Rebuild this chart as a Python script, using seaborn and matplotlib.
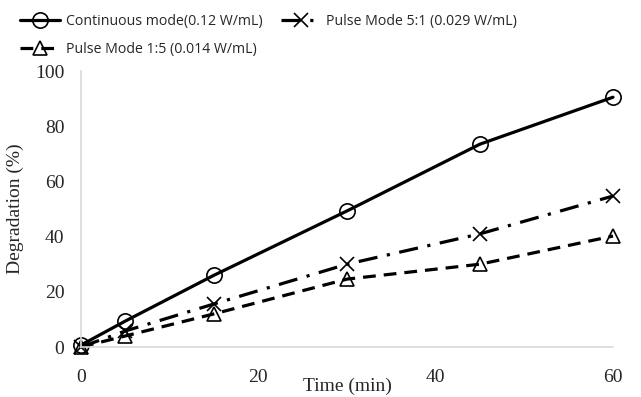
import matplotlib
matplotlib.use("Agg")
import matplotlib.pyplot as plt
import seaborn as sns
import pandas as pd

time_min = [0, 5, 15, 30, 45, 60]
continuous = [0.7, 9.4, 26.0, 49.3, 73.5, 90.5]
pulse_5_1 = [0.0, 5.8, 15.6, 30.0, 41.0, 54.7]
pulse_1_5 = [0.0, 4.0, 12.0, 24.6, 30.0, 40.2]
labels = ["Continuous mode(0.12 W/mL)", "Pulse Mode 5:1 (0.029 W/mL)", "Pulse Mode 1:5 (0.014 W/mL)"]

sns.set_style("white")
fig = plt.figure(figsize=(6.41, 3.97), dpi=100)
ax = fig.add_axes([81/641, 1-347/397, (613-81)/641, (347-71)/397])

styles = [
    dict(marker="o", ls="-", ms=11),
    dict(marker="x", ls=(0, (6, 3, 1, 3)), ms=10),
    dict(marker="^", ls=(0, (4, 2.5)), ms=10),
]
handles = []
for lab, vals, st in zip(labels, [continuous, pulse_5_1, pulse_1_5], styles):
    df = pd.DataFrame({"t": time_min, "v": vals})
    sns.lineplot(data=df, x="t", y="v", ax=ax, color="black", lw=2.3,
                 linestyle=st["ls"], marker=st["marker"], markersize=st["ms"],
                 markerfacecolor="none", markeredgecolor="black", markeredgewidth=1.2)
    ln = ax.lines[-1]
    ln.set_clip_on(False)
    handles.append(ln)

ax.set_xlim(0, 60)
ax.set_ylim(0, 100)
ax.set_xticks([0, 20, 40, 60])
ax.set_yticks([0, 20, 40, 60, 80, 100])
for s in ["top", "right"]:
    ax.spines[s].set_visible(False)
for s in ["left", "bottom"]:
    ax.spines[s].set_color("#d9d9d9")
    ax.spines[s].set_linewidth(1.2)
ax.tick_params(axis="both", length=0, labelsize=14)
ax.tick_params(axis="y", pad=12)
ax.tick_params(axis="x", pad=16)
for t in ax.get_xticklabels() + ax.get_yticklabels():
    t.set_fontfamily("Liberation Serif")
ax.set_xlabel("Time (min)", fontsize=14, fontfamily="Liberation Serif", labelpad=-6)
ax.set_ylabel("Degradation (%)", fontsize=14, fontfamily="Liberation Serif", labelpad=8)

leg = fig.legend([handles[0], handles[2], handles[1]], [labels[0], labels[2], labels[1]],
                 ncol=2, loc="upper left", bbox_to_anchor=(0.012, 0.997), frameon=False,
                 prop={"family": "Open Sans", "size": 10.2}, handlelength=2.8,
                 columnspacing=1.3, labelspacing=0.9, handletextpad=0.4)

fig.savefig("out.png", dpi=100)
